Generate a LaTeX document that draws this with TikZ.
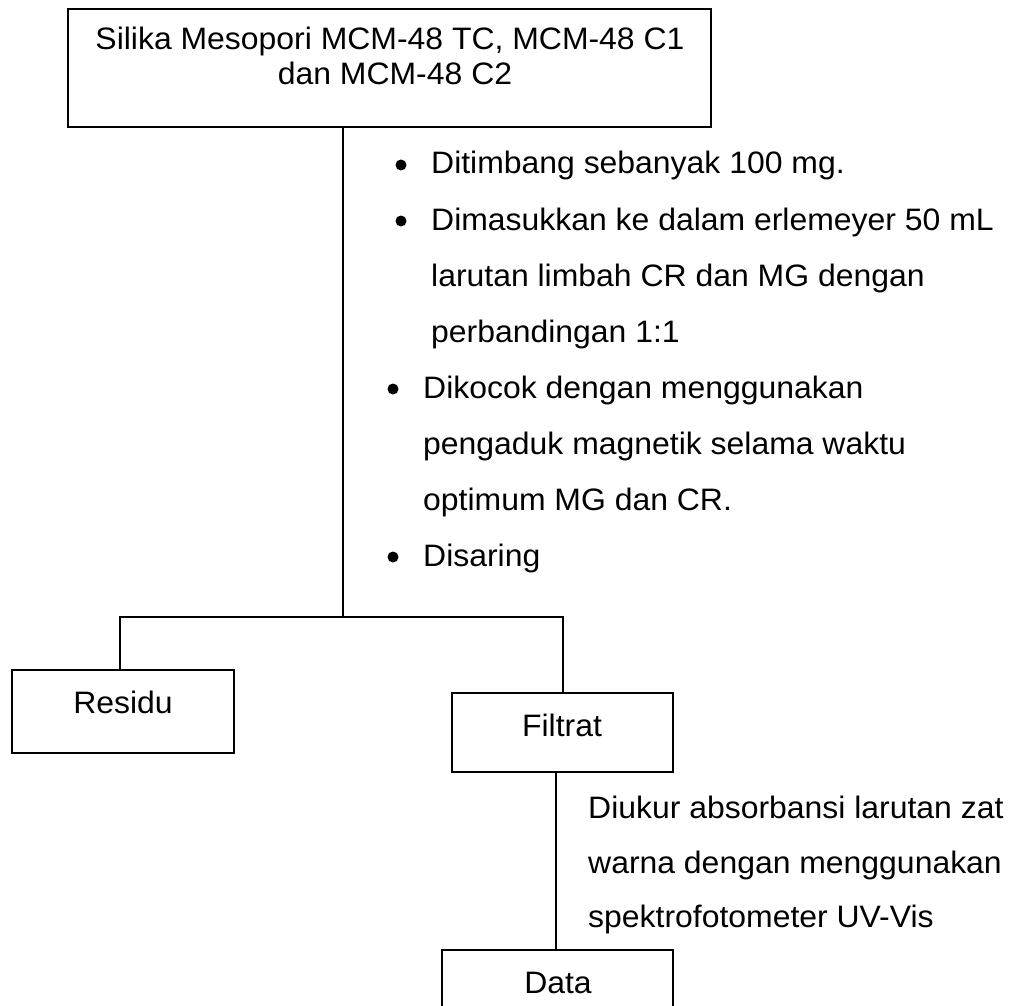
\documentclass[tikz,border=0pt]{standalone}
\usepackage{fontspec}
\setmainfont{Liberation Sans}[FakeStretch=1.03]
\begin{document}
\begin{tikzpicture}[x=1pt,y=-1pt,
  box/.style={draw, line width=1.8pt, inner sep=0pt, outer sep=0pt, anchor=north west},
  txt/.style={anchor=base, inner sep=0pt, font=\fontsize{31}{37}\selectfont},
  ltxt/.style={txt, anchor=base west},
  dot/.style={circle, fill=black, inner sep=0pt, minimum size=11pt},
  link/.style={line width=1.3pt}]
\useasboundingbox (0,0) rectangle (1018,1006);
\clip (0,0) rectangle (1018,1006);

% boxes
\node[box, minimum width=643pt, minimum height=118pt] (top) at (68,9) {};
\node[box, minimum width=222pt, minimum height=83pt] (residu) at (12,670) {};
\node[box, minimum width=221pt, minimum height=79pt] (filtrat) at (452,693) {};
\node[box, minimum width=231pt, minimum height=80pt] (data) at (442,950) {};

% box labels
\node[txt] (topA) at (390,50) {Silika Mesopori MCM-48 TC, MCM-48 C1};
\node[txt] (topB) at (395,85) {dan MCM-48 C2};
\node[txt] (residuT) at (123,713) {Residu};
\node[txt] (filtratT) at (562,736) {Filtrat};
\node[txt] (dataT) at (558,993) {Data};

% procedure steps
\node[dot] (b1) at (401,165) {};
\node[dot] (b2) at (401,221) {};
\node[dot] (b3) at (393,389) {};
\node[dot] (b4) at (393,557) {};
\node[ltxt] (s1) at (431,174) {Ditimbang sebanyak 100 mg.};
\node[ltxt] (s2a) at (431,230) {Dimasukkan ke dalam erlemeyer 50 mL};
\node[ltxt] (s2b) at (431,286) {larutan limbah CR dan MG dengan};
\node[ltxt] (s2c) at (431,342) {perbandingan 1:1};
\node[ltxt] (s3a) at (423,398) {Dikocok dengan menggunakan};
\node[ltxt] (s3b) at (423,454) {pengaduk magnetik selama waktu};
\node[ltxt] (s3c) at (423,510) {optimum MG dan CR.};
\node[ltxt] (s4) at (423,566) {Disaring};

\node[ltxt] (m1) at (588,818) {Diukur absorbansi larutan zat};
\node[ltxt] (m2) at (588,873) {warna dengan menggunakan};
\node[ltxt] (m3) at (588,927) {spektrofotometer UV-Vis};

% connectors
\coordinate (split) at (343,617);
\coordinate (lj) at (120,617);
\coordinate (rj) at (563,617);
\coordinate (dj) at (556,0);
\draw[link] (top.south -| split) -- (split);
\draw[link] (residu.north -| lj) -- (lj) -- (rj) -- (filtrat.north -| rj);
\draw[link] (filtrat.south -| dj) -- (data.north -| dj);
\end{tikzpicture}
\end{document}
